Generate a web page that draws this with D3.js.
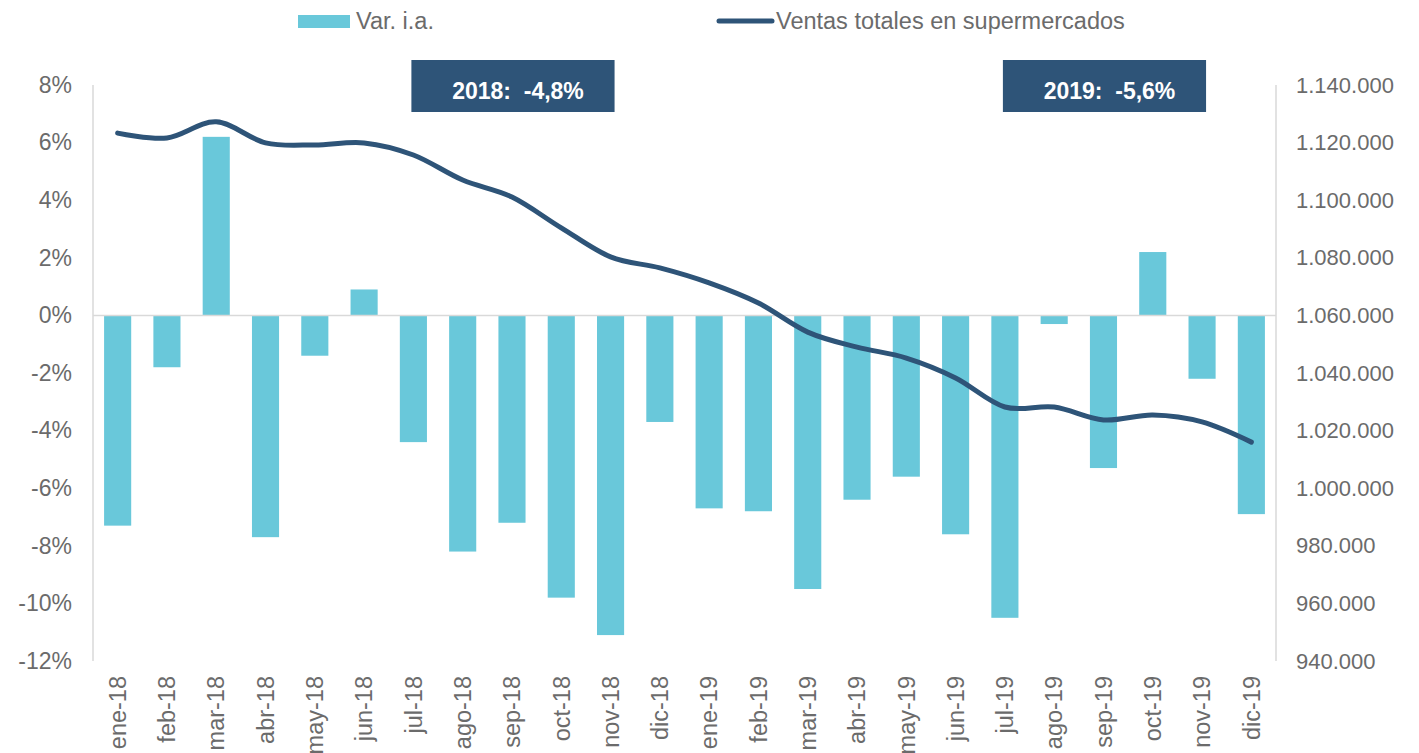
<!DOCTYPE html>
<html><head><meta charset="utf-8">
<script src="https://cdn.jsdelivr.net/npm/d3@7"></script>
<style>body{margin:0;background:#fff;} svg{display:block;font-family:"Liberation Sans",Arial,sans-serif;}</style>
</head><body><svg id="c" width="1419" height="753"></svg>
<script>
const categories = ["ene-18","feb-18","mar-18","abr-18","may-18","jun-18","jul-18","ago-18","sep-18","oct-18","nov-18","dic-18","ene-19","feb-19","mar-19","abr-19","may-19","jun-19","jul-19","ago-19","sep-19","oct-19","nov-19","dic-19"];
const varIA = [-7.3,-1.8,6.2,-7.7,-1.4,0.9,-4.4,-8.2,-7.2,-9.8,-11.1,-3.7,-6.7,-6.8,-9.5,-6.4,-5.6,-7.6,-10.5,-0.3,-5.3,2.2,-2.2,-6.9];
const ventas = [1123300,1121600,1127200,1119900,1119200,1119900,1115700,1107000,1101100,1090400,1080300,1076500,1071300,1064300,1054200,1049000,1045200,1038300,1028200,1028200,1023700,1025400,1023000,1016000];
const leftTicks = [8,6,4,2,0,-2,-4,-6,-8,-10,-12];
const rightTicks = [1140000,1120000,1100000,1080000,1060000,1040000,1020000,1000000,980000,960000,940000];
const seriesNames = ["Var. i.a.","Ventas totales en supermercados"];
const annotations = [{label:"2018:  -4,8%", from:"jul-18", to:"nov-18"},{label:"2019:  -5,6%", from:"jul-19", to:"nov-19"}];

const svg = d3.select("#c");
const L = 93, R = 1276, T = 85, B = 661;
const barColor = "#69C8DA", lineColor = "#2E5478", textColor = "#6b6b6b", axisColor = "#d9d9d9";
const FONT = "Liberation Sans, Arial, sans-serif";

const x = d3.scaleBand().domain(categories).range([L, R]).paddingInner(0.45).paddingOuter(0.225);
const cx = c => x(c) + x.bandwidth() / 2;
const yL = d3.scaleLinear().domain([-12, 8]).range([B, T]);
const yR = d3.scaleLinear().domain([940000, 1140000]).range([B, T]);
const fmtR = v => d3.format(",")(v).replace(/,/g, ".");

// axes lines
svg.append("line").attr("x1", L).attr("x2", L).attr("y1", T).attr("y2", B).attr("stroke", axisColor).attr("stroke-width", 1.5);
svg.append("line").attr("x1", R).attr("x2", R).attr("y1", T).attr("y2", B).attr("stroke", axisColor).attr("stroke-width", 1.5);

// bars
svg.append("g").selectAll("rect").data(varIA).join("rect")
  .attr("x", (d, i) => x(categories[i]))
  .attr("width", x.bandwidth())
  .attr("y", d => yL(Math.max(0, d)))
  .attr("height", d => Math.abs(yL(d) - yL(0)))
  .attr("fill", barColor);

// zero line
svg.append("line").attr("x1", L).attr("x2", R).attr("y1", yL(0)).attr("y2", yL(0)).attr("stroke", axisColor).attr("stroke-width", 1.5);

// left axis
const gl = svg.append("g").attr("transform", `translate(${L},0)`)
  .call(d3.axisLeft(yL).tickValues(leftTicks).tickSize(0).tickPadding(21).tickFormat(d => d + "%"));
gl.select(".domain").remove();
gl.selectAll("text").attr("font-size", 23).attr("fill", textColor).attr("font-family", FONT);

// right axis
const gr = svg.append("g").attr("transform", `translate(${R},0)`)
  .call(d3.axisRight(yR).tickValues(rightTicks).tickSize(0).tickPadding(20).tickFormat(fmtR));
gr.select(".domain").remove();
gr.selectAll("text").attr("font-size", 22).attr("fill", textColor).attr("font-family", FONT);

// x axis labels
const gx = svg.append("g").attr("transform", `translate(0,${B})`)
  .call(d3.axisBottom(x).tickSize(0).tickPadding(0));
gx.select(".domain").remove();
gx.selectAll("text").attr("font-size", 23.5).attr("fill", textColor).attr("font-family", FONT)
  .attr("transform", "rotate(-90)").attr("text-anchor", "end").attr("dy", "0.35em").attr("x", -15).attr("y", 0);

// line
const line = d3.line().x((d, i) => cx(categories[i])).y(d => yR(d)).curve(d3.curveCardinal.tension(0));
svg.append("path").datum(ventas).attr("d", line).attr("fill", "none").attr("stroke", lineColor).attr("stroke-width", 5).attr("stroke-linecap", "round");

// annotations
const boxes = svg.append("g");
annotations.forEach(a => {
  const x0 = cx(a.from) - 2, x1 = cx(a.to) + 4;
  boxes.append("rect").attr("x", x0).attr("y", 60).attr("width", x1 - x0).attr("height", 52).attr("fill", lineColor);
  boxes.append("text").attr("x", (x0 + x1) / 2 + 5).attr("y", 99).attr("text-anchor", "middle").attr("fill", "#fff")
    .attr("font-size", 23).attr("font-weight", "bold").attr("font-family", FONT).style("white-space", "pre").text(a.label);
});

// legend
const lg = svg.append("g");
lg.append("rect").attr("x", 298).attr("y", 15).attr("width", 52).attr("height", 13).attr("fill", barColor);
lg.append("text").attr("x", 356).attr("y", 29).attr("font-size", 23.5).attr("fill", textColor).attr("font-family", FONT).text(seriesNames[0]);
lg.append("line").attr("x1", 719).attr("x2", 772).attr("y1", 21).attr("y2", 21).attr("stroke", lineColor).attr("stroke-width", 5).attr("stroke-linecap", "round");
lg.append("text").attr("x", 776).attr("y", 29).attr("font-size", 23.5).attr("fill", textColor).attr("font-family", FONT).text(seriesNames[1]);
</script>
</body></html>
